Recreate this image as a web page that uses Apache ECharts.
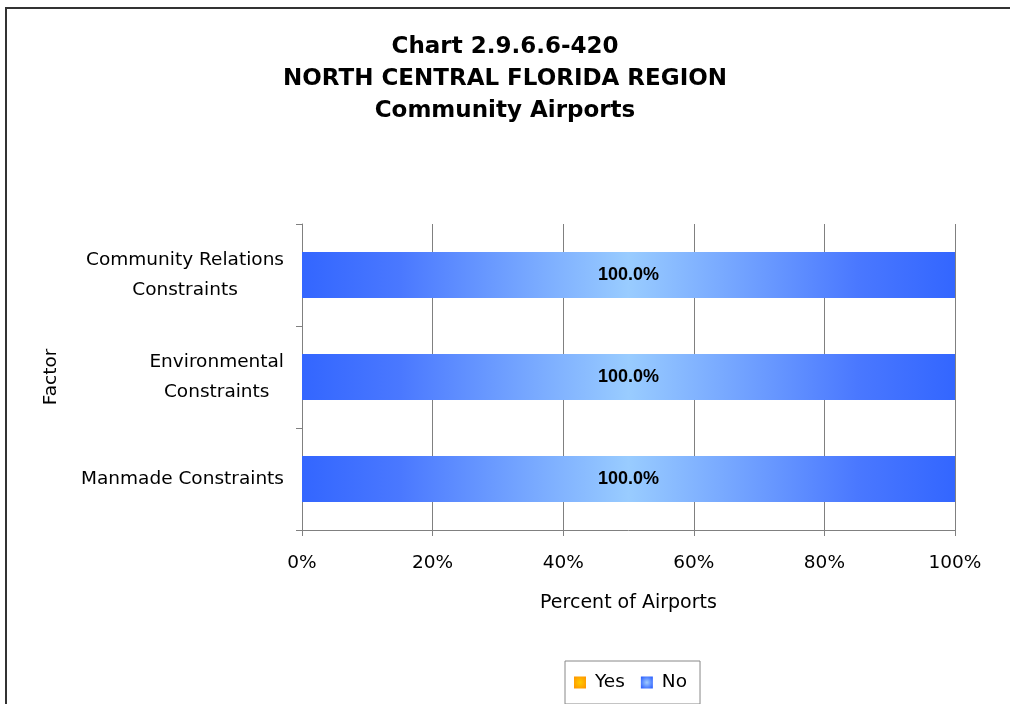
<!DOCTYPE html>
<html>
<head>
<meta charset="utf-8">
<script src="https://cdn.jsdelivr.net/npm/echarts@6/dist/echarts.min.js"></script>
<style>html,body{margin:0;padding:0;background:#fff}#c{width:1010px;height:704px}</style>
</head>
<body>
<div id="c"></div>
<script>
// Data
const categories = ['Manmade Constraints', 'Environmental Constraints', 'Community Relations Constraints'];
const categoryLabels = ['Manmade Constraints', 'Environmental\nConstraints', 'Community Relations\nConstraints'];
const yesValues = [0, 0, 0];
const noValues = [100, 100, 100];
const xTicks = [0, 20, 40, 60, 80, 100];
const titleLines = ['Chart 2.9.6.6-420', 'NORTH CENTRAL FLORIDA REGION', 'Community Airports'];

const FONT = '"DejaVu Sans", sans-serif';
const LABELFONT = '"Liberation Sans", Arial, sans-serif';
const FS = 18.5;
const chart = echarts.init(document.getElementById('c'), null, {renderer: 'canvas'});

const blueGrad = new echarts.graphic.LinearGradient(0, 0, 1, 0, [
  {offset: 0, color: '#3366ff'},
  {offset: 0.15, color: '#4a78ff'},
  {offset: 0.5, color: '#99ccff'},
  {offset: 0.85, color: '#4a78ff'},
  {offset: 1, color: '#3366ff'}
]);
const blueIcon = new echarts.graphic.RadialGradient(0.5, 0.5, 0.6, [
  {offset: 0, color: '#a0ccff'},
  {offset: 1, color: '#3366ff'}
]);
const orangeIcon = new echarts.graphic.RadialGradient(0.5, 0.5, 0.6, [
  {offset: 0, color: '#ffcc00'},
  {offset: 1, color: '#ff9900'}
]);

const labelMap = {};
categories.forEach((c, i) => labelMap[c] = categoryLabels[i]);

chart.setOption({
  animation: false,
  backgroundColor: '#fff',
  textStyle: {fontFamily: FONT},
  title: {
    text: titleLines.join('\n'),
    left: 'center',
    top: 26,
    textStyle: {fontFamily: FONT, fontSize: 23, fontWeight: 'bold', color: '#000', lineHeight: 32}
  },
  graphic: [{
    type: 'rect',
    shape: {x: 6, y: 8, width: 1100, height: 800},
    style: {fill: 'none', stroke: '#333', lineWidth: 2},
    silent: true
  }],
  legend: {
    left: 565,
    top: 661,
    orient: 'horizontal',
    padding: [12, 13, 12, 9],
    itemWidth: 12,
    itemHeight: 12,
    itemGap: 16,
    borderColor: '#888',
    borderWidth: 1,
    textStyle: {fontFamily: FONT, fontSize: FS, color: '#000', padding: [0, 0, 0, 4]},
    data: [
      {name: 'Yes', icon: 'rect', itemStyle: {color: orangeIcon}},
      {name: 'No', icon: 'rect', itemStyle: {color: blueIcon}}
    ]
  },
  grid: {left: 302, right: 55, top: 224, bottom: 174, containLabel: false},
  xAxis: {
    type: 'value',
    min: 0, max: 100, interval: 20,
    name: 'Percent of Airports',
    nameLocation: 'middle',
    nameGap: 64,
    nameTextStyle: {fontFamily: FONT, fontSize: 19, color: '#000'},
    axisLine: {show: true, lineStyle: {color: '#808080', width: 1}},
    axisTick: {show: true, length: 6, lineStyle: {color: '#808080'}},
    axisLabel: {fontFamily: FONT, fontSize: FS, color: '#000', margin: 24, formatter: v => v + '%'},
    splitLine: {show: true, lineStyle: {color: '#808080', width: 1}}
  },
  yAxis: {
    type: 'category',
    data: categories,
    name: 'Factor',
    nameLocation: 'middle',
    nameGap: 241,
    nameRotate: 90,
    nameTextStyle: {fontFamily: FONT, fontSize: FS, color: '#000'},
    axisLine: {show: true, lineStyle: {color: '#808080', width: 1}},
    axisTick: {show: true, length: 6, lineStyle: {color: '#808080'}},
    axisLabel: {
      margin: 18,
      formatter: v => labelMap[v].split('\n').map(l => '{a|' + l + '}').join('\n'),
      rich: {a: {fontFamily: FONT, fontSize: FS, color: '#000', align: 'center', lineHeight: 30}}
    },
    splitLine: {show: false}
  },
  series: [
    {
      name: 'Yes', type: 'bar', stack: 'all', barWidth: 46,
      data: yesValues,
      itemStyle: {color: orangeIcon},
      label: {show: false}
    },
    {
      name: 'No', type: 'bar', stack: 'all', barWidth: 46,
      data: noValues,
      itemStyle: {color: blueGrad},
      label: {
        show: true, position: 'inside',
        formatter: p => p.value.toFixed(1) + '%',
        fontFamily: LABELFONT, fontSize: 18, fontWeight: 'bold', color: '#000'
      }
    }
  ]
});
</script>
</body>
</html>
